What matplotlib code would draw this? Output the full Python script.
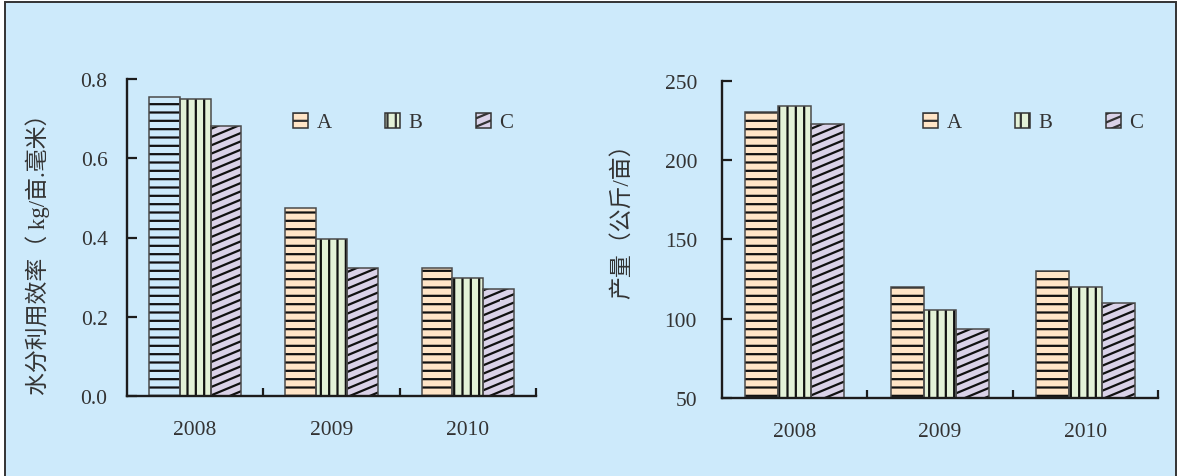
import numpy as np
import matplotlib
matplotlib.use("Agg")
import matplotlib.pyplot as plt
import matplotlib.patches as mpatches
import matplotlib.hatch as mhatch
from matplotlib.path import Path

# ---- data ----
years = ["2008", "2009", "2010"]
series = ["A", "B", "C"]
wue_A = [0.755, 0.474, 0.323]
wue_B = [0.749, 0.395, 0.297]
wue_C = [0.682, 0.323, 0.271]
yield_A = [230.5, 120.0, 130.0]
yield_B = [234.0, 105.5, 120.0]
yield_C = [223.0, 93.5, 110.0]
wue_ticks = [0.0, 0.2, 0.4, 0.6, 0.8]
yield_ticks = [50, 100, 150, 200, 250]

# ---- styles ----
BG = "#cdeafb"
fills = {"A": "#ffe5c7", "B": "#e3f1d7", "C": "#dad2e8"}
hatches = {"A": "--", "B": "||", "C": "//"}
EDGE = "#4a4a4a"
INK = "#111111"


class ShallowNorthEastHatch(mhatch.HatchPatternBase):
    """'/' hatch drawn with a shallow rising slope instead of 45 degrees."""
    slope = 5.0 / 12.0

    def __init__(self, hatch, density):
        self.num_lines = int((hatch.count('/') + hatch.count('x')
                              + hatch.count('X')) * density)
        self.num_vertices = self.num_lines * 2 * 2 if self.num_lines else 0

    def set_vertices_and_codes(self, vertices, codes):
        n = self.num_lines
        k = np.arange(-n, n) / n
        pts = np.empty((2 * n, 2, 2))
        pts[:, 0, 0] = 0.0
        pts[:, 0, 1] = k
        pts[:, 1, 0] = 1.0
        pts[:, 1, 1] = k + self.slope
        vertices[:] = pts.reshape(-1, 2)
        codes[0::2] = Path.MOVETO
        codes[1::2] = Path.LINETO


mhatch._hatch_types = [ShallowNorthEastHatch if t is mhatch.NorthEastHatch else t
                       for t in mhatch._hatch_types]

plt.rcParams["font.family"] = ["Liberation Serif", "Noto Sans CJK SC"]
plt.rcParams["hatch.linewidth"] = 1.6

W, H = 1179, 477
fig = plt.figure(figsize=(W / 100, H / 100), dpi=100, facecolor="white")

# panel background with frame
fig.patches.append(mpatches.Rectangle((5 / W, -0.05), 1171 / W, 1.05 - 3 / H,
                                      transform=fig.transFigure, facecolor=BG,
                                      edgecolor="#333333", linewidth=1.4, zorder=-1))

ax1 = fig.add_axes([127 / W, (H - 397) / H, 409 / W, 317 / H])
ax2 = fig.add_axes([722 / W, (H - 399) / H, 436 / W, 317.3 / H])

x = np.arange(len(years))
bw = 0.677 / 3


def draw_panel(ax, data, ylim, yticks, fmt, first_blank=False):
    ax.set_facecolor("none")
    for i, (name, vals) in enumerate(zip(series, data)):
        pos = x + (i - 1) * bw
        fc = [fills[name]] * len(vals)
        if first_blank and name == "A":
            fc[0] = "none"
        base = ylim[0]
        heights = np.array(vals) - base
        ax.bar(pos, heights, bw, bottom=base, color=fc, hatch=hatches[name],
               edgecolor=INK, linewidth=0, zorder=2)
        ax.bar(pos, heights, bw, bottom=base, fill=False,
               edgecolor=EDGE, linewidth=1.1, zorder=3)
    ax.set_xlim(-0.5, 2.5)
    ax.set_ylim(*ylim)
    ax.set_yticks(yticks)
    ax.set_yticklabels([fmt(v) for v in yticks])
    ax.set_xticks([0.5, 1.5, 2.5])
    ax.set_xticklabels([])
    ax.set_xticks(x, minor=True)
    ax.set_xticklabels(years, minor=True)
    for s in ("top", "right"):
        ax.spines[s].set_visible(False)
    for s in ("left", "bottom"):
        ax.spines[s].set_linewidth(1.7)
        ax.spines[s].set_color("#1c1c1c")
        ax.spines[s].set_zorder(4)
    ax.tick_params(axis="y", direction="in", length=7, width=1.6, color="#1c1c1c",
                   labelsize=15.5, labelcolor="#333333", pad=14)
    ax.tick_params(axis="x", which="major", direction="in", length=6, width=1.6,
                   color="#1c1c1c")
    ax.tick_params(axis="x", which="minor", length=0, labelsize=15.5,
                   labelcolor="#333333", pad=17)

    handles = [mpatches.Patch(facecolor=fills[n], edgecolor="#333333",
                              hatch=hatches[n], linewidth=1.1) for n in series]
    return handles


h1 = draw_panel(ax1, [wue_A, wue_B, wue_C], (0, 0.8), wue_ticks,
                lambda v: f"{v:.1f}", first_blank=True)
h2 = draw_panel(ax2, [yield_A, yield_B, yield_C], (50, 250), yield_ticks,
                lambda v: f"{v:d}")
ax2.tick_params(axis="y", pad=18)

for ax, handles, ax_x, ax_y in ((ax1, h1, (293 - 127) / 409, (397 - 123.5) / 317),
                                (ax2, h2, (923 - 722) / 436, (399 - 123.5) / 317.3)):
    ax.legend(handles, series, ncol=3, loc="center left",
              bbox_to_anchor=(ax_x, ax_y), frameon=False, borderpad=0,
              borderaxespad=0, fontsize=15, handlelength=0.72, handleheight=0.72,
              handletextpad=0.42, columnspacing=2.55, labelcolor="#333333")

fig.text(38 / W, 1 - 249 / H, "水分利用效率（ kg/亩.毫米）", rotation=90,
         ha="center", va="center", fontsize=16.5, color="#333333")
fig.text(622 / W, 1 - 216 / H, "产量（公斤/亩）", rotation=90,
         ha="center", va="center", fontsize=16.5, color="#333333")

fig.savefig("out.png", dpi=100, facecolor="white")
